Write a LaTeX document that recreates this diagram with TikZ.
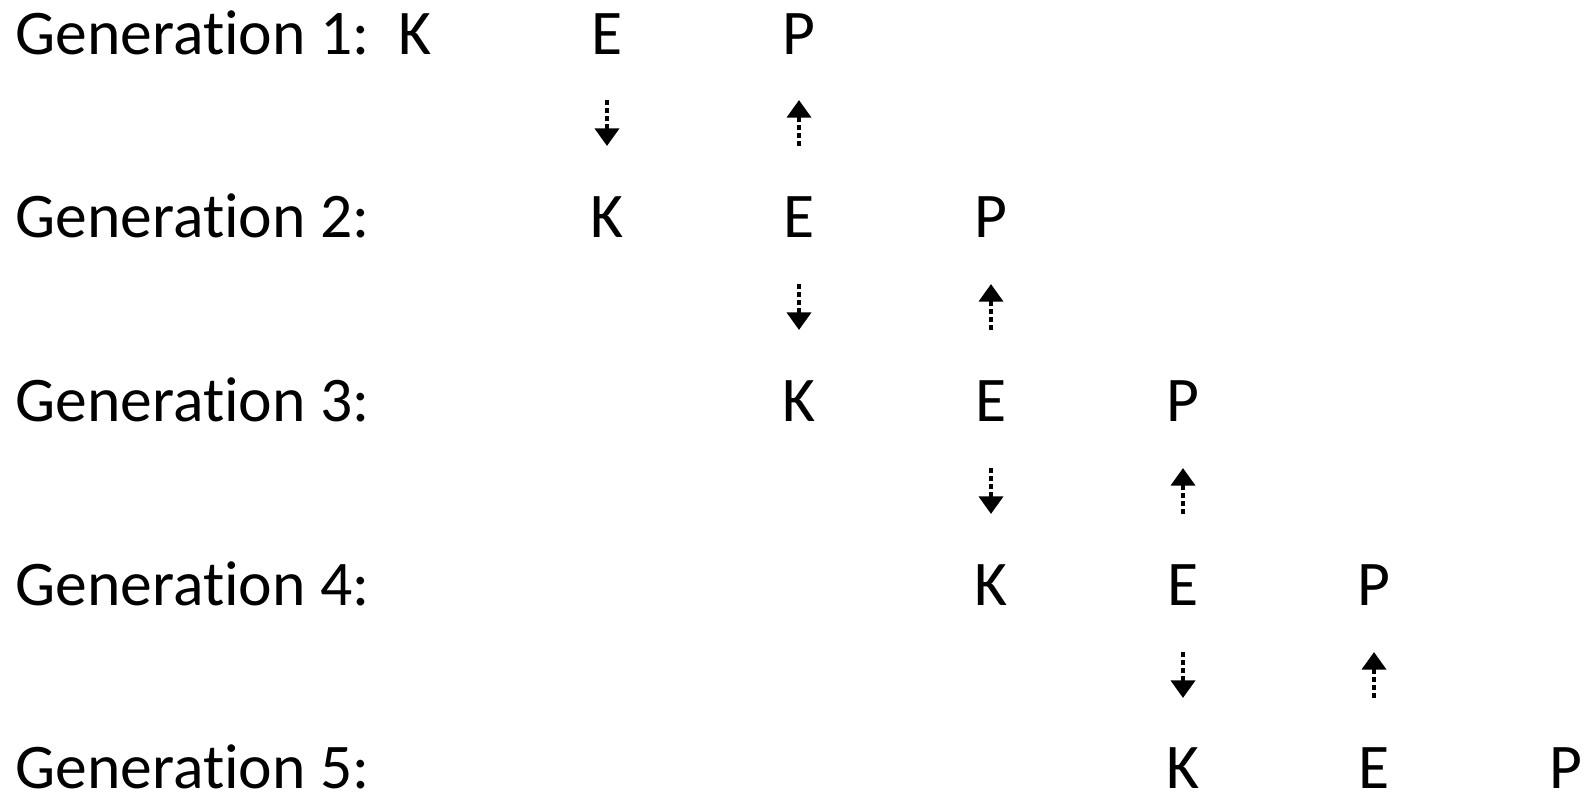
\documentclass[tikz,border=0pt]{standalone}
\usepackage{fontspec}
\setmainfont{Carlito}[Ligatures=NoCommon]
\usepackage{tikz}
\usetikzlibrary{positioning,arrows.meta}

\begin{document}
\begin{tikzpicture}[x=0.02cm, y=-0.02cm,
    gen/.style   ={anchor=base west, inner sep=0pt, font=\fontsize{36.2}{40}\selectfont},
    letter/.style={anchor=base, inner sep=0pt, font=\fontsize{36.2}{40}\selectfont},
    down/.style  ={line width=2.6pt, dash pattern=on 2.8pt off 1.7pt,
                   -{Triangle[width=13.5pt, length=10pt]}, shorten >=0pt},
    up/.style    ={down}
  ]
    \useasboundingbox (0,0) rectangle (1586,795);

    % --- generation 1 ---
    \node[gen] (g1) at (15, 54) {Generation 1:};
    \node[letter] (k1) at (415, 54) {K};
    \node[letter] (e1) at (607, 54) {E};
    \node[letter] (p1) at (799, 54) {P};

    % --- generation 2 ---
    \node[gen] (g2) at (15, 237) {Generation 2:};
    \node[letter] (k2) at (607, 237) {K};
    \node[letter] (e2) at (799, 237) {E};
    \node[letter] (p2) at (991, 237) {P};

    % --- generation 3 ---
    \node[gen] (g3) at (15, 421) {Generation 3:};
    \node[letter] (k3) at (799, 421) {K};
    \node[letter] (e3) at (991, 421) {E};
    \node[letter] (p3) at (1183, 421) {P};

    % --- generation 4 ---
    \node[gen] (g4) at (15, 605) {Generation 4:};
    \node[letter] (k4) at (991, 605) {K};
    \node[letter] (e4) at (1183, 605) {E};
    \node[letter] (p4) at (1374, 605) {P};

    % --- generation 5 ---
    \node[gen] (g5) at (15, 788) {Generation 5:};
    \node[letter] (k5) at (1183, 788) {K};
    \node[letter] (e5) at (1374, 788) {E};
    \node[letter] (p5) at (1566, 788) {P};

    % arrow ends between the rows
    \coordinate (a1t) at (607, 100);  \coordinate (a1b) at (607, 146);
    \coordinate (b1t) at (799, 100);  \coordinate (b1b) at (799, 146);
    \coordinate (a2t) at (799, 284);  \coordinate (a2b) at (799, 330);
    \coordinate (b2t) at (991, 284);  \coordinate (b2b) at (991, 330);
    \coordinate (a3t) at (991, 468);  \coordinate (a3b) at (991, 514);
    \coordinate (b3t) at (1183, 468); \coordinate (b3b) at (1183, 514);
    \coordinate (a4t) at (1183, 652); \coordinate (a4b) at (1183, 698);
    \coordinate (b4t) at (1374, 652); \coordinate (b4b) at (1374, 698);

    % E goes down to K, P comes up from E
    \draw[down] (a1t) -- (a1b);
    \draw[up]   (b1b) -- (b1t);
    \draw[down] (a2t) -- (a2b);
    \draw[up]   (b2b) -- (b2t);
    \draw[down] (a3t) -- (a3b);
    \draw[up]   (b3b) -- (b3t);
    \draw[down] (a4t) -- (a4b);
    \draw[up]   (b4b) -- (b4t);
  \end{tikzpicture}
\end{document}
